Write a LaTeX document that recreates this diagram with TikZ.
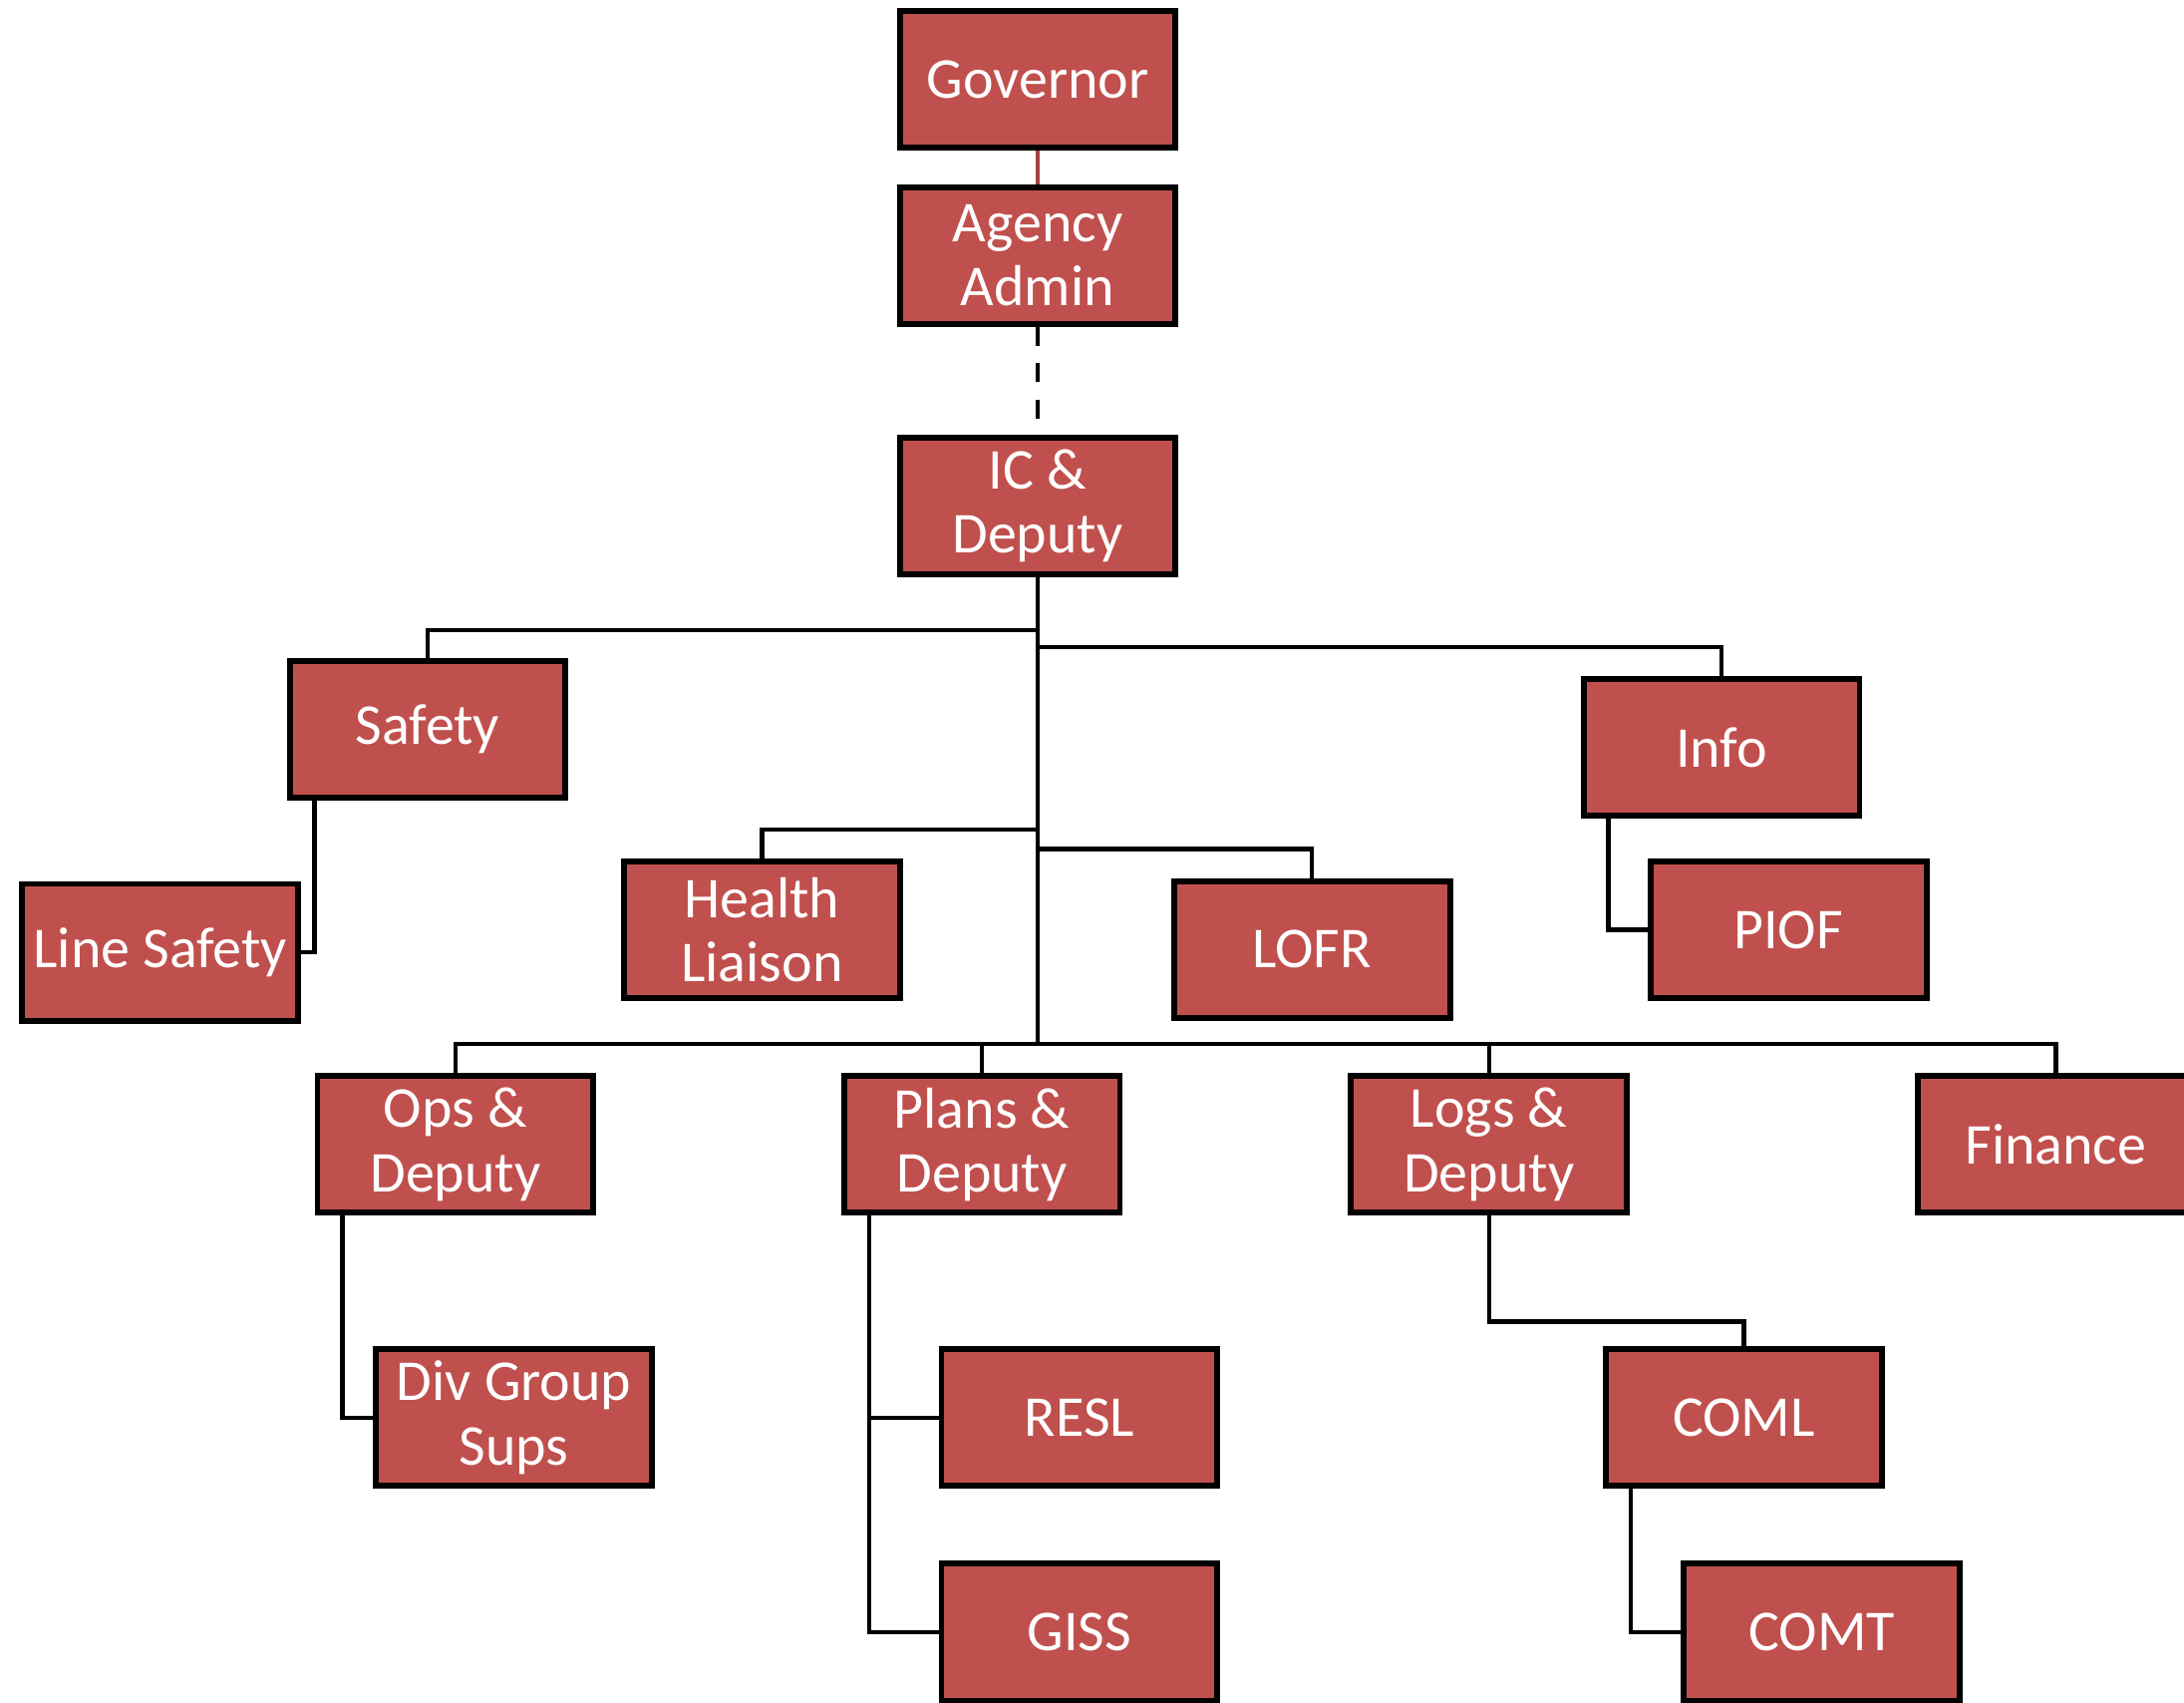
\documentclass[tikz,border=0pt]{standalone}
\usepackage{fontspec}
\setmainfont{Carlito}
\definecolor{boxred}{HTML}{C0504D}

\begin{document}
\begin{tikzpicture}[x=0.01cm, y=0.01cm, yscale=-1,
  unit/.style={draw=black, fill=boxred, text=white, line width=1.2pt,
    minimum width=1.98cm, minimum height=0.98cm, inner sep=0pt,
    align=center, font=\fontsize{11.8}{13.1}\selectfont},
  link/.style={draw=black, line width=0.9pt}]
\useasboundingbox (0,0) rectangle (1568,1222);

% top chain
\node[unit] (governor) at (745,57) {Governor};
\node[unit] (agency) at (745,183.5) {Agency\\Admin};
\node[unit] (ic) at (745,363) {IC \&\\Deputy};

% command staff
\node[unit] (safety) at (307,523.5) {Safety};
\node[unit] (info) at (1236,536.5) {Info};
\node[unit] (linesafety) at (115,683.5) {Line Safety};
\node[unit] (health) at (547,667.5) {Health\\Liaison};
\node[unit] (lofr) at (942,681.5) {LOFR};
\node[unit] (piof) at (1284,667.5) {PIOF};

% sections
\node[unit] (ops) at (327,821.5) {Ops \&\\Deputy};
\node[unit] (plans) at (705,821.5) {Plans \&\\Deputy};
\node[unit] (logs) at (1069,821.5) {Logs \&\\Deputy};
\node[unit] (finance) at (1476,821.5) {Finance};

% units
\node[unit] (divgroup) at (369,1017.5) {Div Group\\Sups};
\node[unit] (resl) at (775,1017.5) {RESL};
\node[unit] (giss) at (775,1171.5) {GISS};
\node[unit] (coml) at (1252,1017.5) {COML};
\node[unit] (comt) at (1308,1171.5) {COMT};

% connectors
\draw[draw=boxred!85!black, line width=0.9pt] (governor) -- (agency);
\draw[link, dash pattern=on 0.137cm off 0.123cm] (agency.south) -- (ic.north);
\draw[link] (safety.north) -- ++(0,-20) -| (ic.south);
\draw[link] (info.north) -- ++(0,-21) -| (ic.south);
\draw[link] (health.north) -- ++(0,-21) -| (ic.south);
\draw[link] (lofr.north) -- ++(0,-21) -| (ic.south);
\draw[link] ([xshift=0.2cm]safety.south west) |- (linesafety.east);
\draw[link] ([xshift=0.2cm]info.south west) |- (piof.west);
\draw[link] (ops.north) -- ++(0,-21) -| (ic.south);
\draw[link] (plans.north) -- ++(0,-21) -| (ic.south);
\draw[link] (logs.north) -- ++(0,-21) -| (ic.south);
\draw[link] (finance.north) -- ++(0,-21) -| (ic.south);
\draw[link] ([xshift=0.2cm]ops.south west) |- (divgroup.west);
\draw[link] ([xshift=0.2cm]plans.south west) |- (resl.west);
\draw[link] ([xshift=0.2cm]plans.south west) |- (giss.west);
\draw[link] (logs.south) -- ++(0,76) -| (coml.north);
\draw[link] ([xshift=0.2cm]coml.south west) |- (comt.west);

\end{tikzpicture}
\end{document}
